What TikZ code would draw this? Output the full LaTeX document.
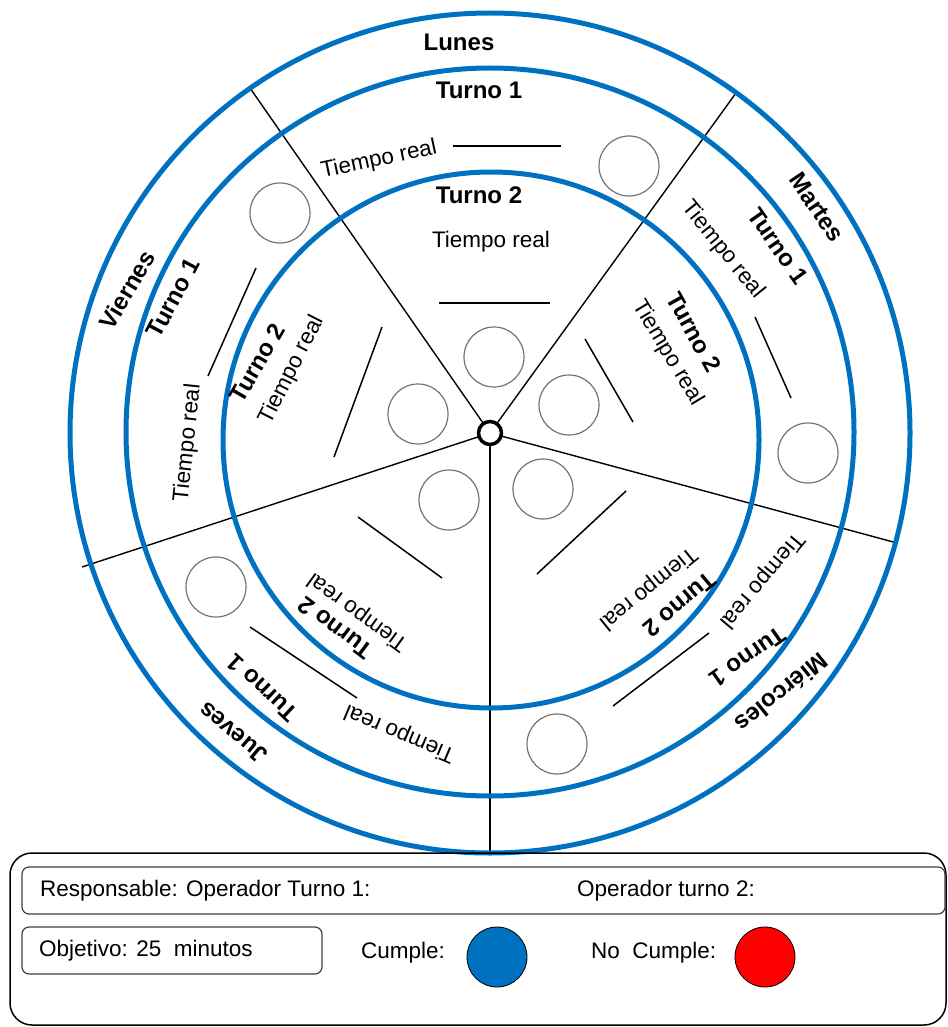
\documentclass[tikz,border=0pt]{standalone}
\usepackage{fontspec}
\setmainfont{Liberation Sans}
\definecolor{ringblue}{RGB}{0,112,192}
\definecolor{nored}{RGB}{255,0,0}
\begin{document}
\begin{tikzpicture}[x=1pt,y=-1pt,
  ring/.style={draw=ringblue,line width=5pt},
  spoke/.style={draw=black,line width=1.4pt},
  blank/.style={draw=black,line width=1.5pt},
  slotc/.style={circle,draw=black!55,line width=1.2pt,minimum size=60pt,inner sep=0pt},
  boldlbl/.style={font=\fontsize{24}{28}\selectfont\bfseries,inner sep=0pt},
  reallbl/.style={font=\fontsize{22.5}{26}\selectfont,inner sep=0pt},
  txt/.style={font=\fontsize{22.5}{26}\selectfont,inner sep=0pt,anchor=west},
  panelbox/.style={draw=black!75,line width=1.2pt,rounded corners=7pt},
  dot/.style={circle,draw=black,line width=0.8pt,minimum size=60pt,inner sep=0pt}
]
\useasboundingbox (0,0) rectangle (947,1027);

% hub and spoke end points
\coordinate (c) at (490,433);
\coordinate (e1) at (736,93);
\coordinate (e2) at (250,88);
\coordinate (e3) at (82,567);
\coordinate (e4) at (490,853);
\coordinate (e5) at (897,543);

% spokes separating the five days
\foreach \e in {e1,e2,e3,e4,e5} \draw[spoke] (c) -- (\e);

% rings: day / shift 1 / shift 2
\draw[ring] (490,433) circle[radius=420];
\draw[ring] (490,432) circle[radius=364];
\draw[ring] (491,440) circle[radius=268];

\node[circle,draw=black,line width=3.5pt,fill=white,minimum size=23pt,inner sep=0pt] (hub) at (c) {};

% ---- Lunes
\node[boldlbl] (lun) at (459,42) {Lunes};
\node[boldlbl] (lunT1) at (479,90) {Turno 1};
\node[reallbl,rotate=12] (lunR1) at (379,160) {Tiempo real};
\draw[blank] (453,146) -- (561,146);
\node[slotc] (lunC1) at (629,166) {};
\node[boldlbl] (lunT2) at (479,195) {Turno 2};
\node[reallbl] (lunR2) at (491,242) {Tiempo real};
\draw[blank] (439,303) -- (550,303);
\node[slotc] (lunC2) at (494,357) {};

% ---- Martes
\node[boldlbl,rotate=-56] (mar) at (817,207) {Martes};
\node[boldlbl,rotate=-55] (marT1) at (778,246) {Turno 1};
\node[reallbl,rotate=-51] (marR1) at (723,250) {Tiempo real};
\draw[blank] (755,317) -- (791,398);
\node[slotc] (marC1) at (808,453) {};
\node[boldlbl,rotate=-61] (marT2) at (694,332) {Turno 2};
\node[reallbl,rotate=-59] (marR2) at (668,353) {Tiempo real};
\draw[blank] (585,339) -- (633,422);
\node[slotc] (marC2) at (569,405) {};

% ---- Miércoles
\node[boldlbl,rotate=-141] (mie) at (782,693) {Miércoles};
\node[boldlbl,rotate=-145] (mieT1) at (748,657) {Turno 1};
\node[reallbl,rotate=-130] (mieR1) at (762,580) {Tiempo real};
\draw[blank] (613,706) -- (709,633);
\node[slotc] (mieC1) at (557,744) {};
\node[boldlbl,rotate=-140] (mieT2) at (680,605) {Turno 2};
\node[reallbl,rotate=-141] (mieR2) at (648,588) {Tiempo real};
\draw[blank] (537,574) -- (626,491);
\node[slotc] (mieC2) at (543,489) {};

% ---- Jueves
\node[boldlbl,rotate=140] (jue) at (233,733) {Jueves};
\node[boldlbl,rotate=137] (jueT1) at (262,688) {Turno 1};
\node[reallbl,rotate=157] (jueR1) at (400,733) {Tiempo real};
\draw[blank] (250,627) -- (357,698);
\node[slotc] (jueC1) at (216,587) {};
\node[boldlbl,rotate=143] (jueT2) at (335,628) {Turno 2};
\node[reallbl,rotate=144] (jueR2) at (358,612) {Tiempo real};
\draw[blank] (358,517) -- (442,578);
\node[slotc] (jueC2) at (449,500) {};

% ---- Viernes
\node[boldlbl,rotate=59] (vie) at (127,290) {Viernes};
\node[boldlbl,rotate=62] (vieT1) at (173,298) {Turno 1};
\node[reallbl,rotate=84] (vieR1) at (188,443) {Tiempo real};
\draw[blank] (208,376) -- (256,268);
\node[slotc] (vieC1) at (280,213) {};
\node[boldlbl,rotate=60] (vieT2) at (257,363) {Turno 2};
\node[reallbl,rotate=63] (vieR2) at (292,370) {Tiempo real};
\draw[blank] (334,457) -- (382,327);
\node[slotc] (vieC2) at (418,414) {};

% ---- legend panel
\draw[black,line width=1.5pt,rounded corners=22pt] (10,853) rectangle (946,1025);
\draw[panelbox] (22,867) rectangle (945,914);
\node[txt] (resp) at (40,891) {Responsable: Operador Turno 1:};
\node[txt] (op2) at (577,891) {Operador turno 2:};
\draw[panelbox] (22,927) rectangle (322,974);
\node[txt] (obj) at (39,951) {Objetivo: 25\ \ minutos};
\node[txt] (ok) at (361,953) {Cumple:};
\node[dot,fill=ringblue] (okdot) at (497,957) {};
\node[txt] (nok) at (591,953) {No\ \ Cumple:};
\node[dot,fill=nored] (nokdot) at (765,957) {};
\end{tikzpicture}
\end{document}
